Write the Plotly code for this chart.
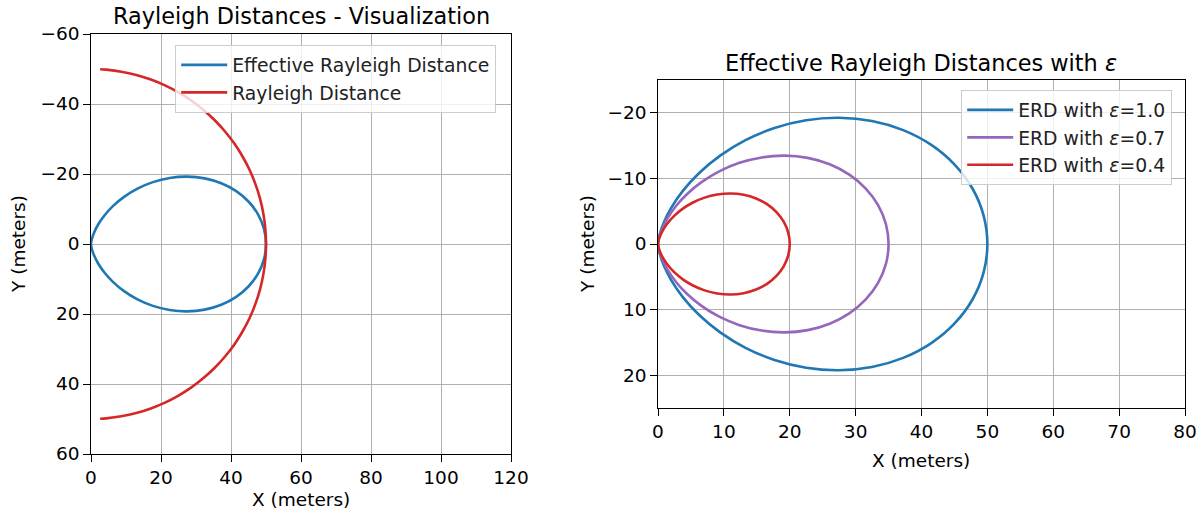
import plotly.graph_objects as go

# ---------------- data ----------------
# Left panel: Effective Rayleigh Distance (closed loop, meters)
erd_x = [0, 0.03, 0.26, 0.87, 2.00, 3.77, 6.25, 9.44, 13.28, 17.68, 22.48, 27.48, 32.48, 37.22, 41.49, 45.06, 47.76, 49.43, 50,
         49.43, 47.76, 45.06, 41.49, 37.22, 32.48, 27.48, 22.48, 17.68, 13.28, 9.44, 6.25, 3.77, 2.00, 0.87, 0.26, 0.03, 0]
erd_y = [0, -0.38, -1.49, -3.24, -5.50, -8.09, -10.83, -13.47, -15.83, -17.68, -18.86, -19.24, -18.75, -17.36, -15.10, -12.07, -8.42, -4.33, 0,
         4.33, 8.42, 12.07, 15.10, 17.36, 18.75, 19.24, 18.86, 17.68, 15.83, 13.47, 10.83, 8.09, 5.50, 3.24, 1.49, 0.38, 0]

# Left panel: Rayleigh Distance (arc, meters)
rd_x = [2.62, 4.36, 8.68, 12.94, 17.10, 21.13, 25.00, 28.68, 32.14, 35.36, 38.30, 40.96, 43.30, 45.32, 46.98, 48.30, 49.24, 49.81, 50,
        49.81, 49.24, 48.30, 46.98, 45.32, 43.30, 40.96, 38.30, 35.36, 32.14, 28.68, 25.00, 21.13, 17.10, 12.94, 8.68, 4.36, 2.62]
rd_y = [-49.93, -49.81, -49.24, -48.30, -46.98, -45.32, -43.30, -40.96, -38.30, -35.36, -32.14, -28.68, -25.00, -21.13, -17.10, -12.94, -8.68, -4.36, 0,
        4.36, 8.68, 12.94, 17.10, 21.13, 25.00, 28.68, 32.14, 35.36, 38.30, 40.96, 43.30, 45.32, 46.98, 48.30, 49.24, 49.81, 49.93]

# Right panel: ERD for several epsilon values
erd10_x = erd_x
erd10_y = erd_y
erd07_x = [0, 0.02, 0.18, 0.61, 1.40, 2.64, 4.38, 6.60, 9.30, 12.37, 15.74, 19.24, 22.73, 26.06, 29.04, 31.54, 33.43, 34.60, 35,
           34.60, 33.43, 31.54, 29.04, 26.06, 22.73, 19.24, 15.74, 12.37, 9.30, 6.60, 4.38, 2.64, 1.40, 0.61, 0.18, 0.02, 0]
erd07_y = [0, -0.26, -1.04, -2.26, -3.85, -5.67, -7.58, -9.43, -11.08, -12.37, -13.20, -13.47, -13.13, -12.15, -10.57, -8.45, -5.89, -3.03, 0,
           3.03, 5.89, 8.45, 10.57, 12.15, 13.13, 13.47, 13.20, 12.37, 11.08, 9.43, 7.58, 5.67, 3.85, 2.26, 1.04, 0.26, 0]
erd04_x = [0, 0.01, 0.10, 0.35, 0.80, 1.51, 2.50, 3.77, 5.31, 7.07, 8.99, 10.99, 12.99, 14.89, 16.60, 18.02, 19.10, 19.77, 20,
           19.77, 19.10, 18.02, 16.60, 14.89, 12.99, 10.99, 8.99, 7.07, 5.31, 3.77, 2.50, 1.51, 0.80, 0.35, 0.10, 0.01, 0]
erd04_y = [0, -0.15, -0.59, -1.29, -2.20, -3.24, -4.33, -5.39, -6.33, -7.07, -7.54, -7.70, -7.50, -6.94, -6.04, -4.83, -3.37, -1.73, 0,
           1.73, 3.37, 4.83, 6.04, 6.94, 7.50, 7.70, 7.54, 7.07, 6.33, 5.39, 4.33, 3.24, 2.20, 1.29, 0.59, 0.15, 0]

left_xticks = [0, 20, 40, 60, 80, 100, 120]
left_yticks = [-60, -40, -20, 0, 20, 40, 60]
right_xticks = [0, 10, 20, 30, 40, 50, 60, 70, 80]
right_yticks = [-20, -10, 0, 10, 20]

BLUE = "#1f77b4"
RED = "#d62728"
PURPLE = "#9467bd"
FONT = "DejaVu Sans"
W, H = 1202, 516

fig = go.Figure()
lw = 2.6
def ln(color):
    return dict(color=color, width=lw, shape="spline", smoothing=1.0)

fig.add_trace(go.Scatter(x=erd_x, y=erd_y, mode="lines", name="Effective Rayleigh Distance",
                         line=ln(BLUE), xaxis="x", yaxis="y", legend="legend"))
fig.add_trace(go.Scatter(x=rd_x, y=rd_y, mode="lines", name="Rayleigh Distance",
                         line=ln(RED), xaxis="x", yaxis="y", legend="legend"))
fig.add_trace(go.Scatter(x=erd10_x, y=erd10_y, mode="lines", name="ERD with <i>ε</i>=1.0",
                         line=ln(BLUE), xaxis="x2", yaxis="y2", legend="legend2"))
fig.add_trace(go.Scatter(x=erd07_x, y=erd07_y, mode="lines", name="ERD with <i>ε</i>=0.7",
                         line=ln(PURPLE), xaxis="x2", yaxis="y2", legend="legend2"))
fig.add_trace(go.Scatter(x=erd04_x, y=erd04_y, mode="lines", name="ERD with <i>ε</i>=0.4",
                         line=ln(RED), xaxis="x2", yaxis="y2", legend="legend2"))

tickfont = dict(family=FONT, size=18.5, color="black")
axcommon = dict(showline=True, linecolor="black", linewidth=1.4, mirror=True,
                ticks="outside", ticklen=6.5, tickwidth=1.4, tickcolor="black",
                showgrid=True, gridcolor="#b0b0b0", gridwidth=1.4, zeroline=False,
                tickfont=tickfont, fixedrange=True, automargin=False)

def px_x(p):
    return p / W

def px_y(p):
    return 1 - p / H

legfont = dict(family=FONT, size=18.8, color="#222222")
fig.update_layout(
    width=W, height=H, autosize=False,
    margin=dict(l=0, r=0, t=0, b=0),
    paper_bgcolor="white", plot_bgcolor="white",
    font=dict(family=FONT, size=18.5, color="black"),
    xaxis=dict(domain=[px_x(91), px_x(511)], range=[0, 120], tickvals=left_xticks, anchor="y", **axcommon),
    yaxis=dict(domain=[px_y(454), px_y(34)], range=[60, -60], tickvals=left_yticks, anchor="x", **axcommon),
    xaxis2=dict(domain=[px_x(658), px_x(1185)], range=[0, 80], tickvals=right_xticks, anchor="y2", **axcommon),
    yaxis2=dict(domain=[px_y(408), px_y(80)], range=[25, -25], tickvals=right_yticks, anchor="x2", **axcommon),
    legend=dict(x=px_x(175), y=px_y(45), xanchor="left", yanchor="top",
                bgcolor="rgba(255,255,255,0.8)", bordercolor="#cccccc", borderwidth=1.2,
                font=legfont, itemwidth=46),
    legend2=dict(x=px_x(961), y=px_y(90), xanchor="left", yanchor="top",
                 bgcolor="rgba(255,255,255,0.8)", bordercolor="#cccccc", borderwidth=1.2,
                 font=legfont, itemwidth=46),
    showlegend=True,
)

annos = [
    dict(text="Rayleigh Distances - Visualization", x=px_x(301), y=px_y(16), size=22.4, angle=0),
    dict(text="Effective Rayleigh Distances with <i>ε</i>", x=px_x(921), y=px_y(63), size=22.4, angle=0),
    dict(text="X (meters)", x=px_x(301), y=px_y(499), size=18.5, angle=0),
    dict(text="X (meters)", x=px_x(921), y=px_y(460), size=18.5, angle=0),
    dict(text="Y (meters)", x=px_x(19), y=px_y(244), size=18.5, angle=-90),
    dict(text="Y (meters)", x=px_x(588), y=px_y(244), size=18.5, angle=-90),
]
for a in annos:
    fig.add_annotation(text=a["text"], x=a["x"], y=a["y"], xref="paper", yref="paper",
                       xanchor="center", yanchor="middle", showarrow=False, textangle=a["angle"],
                       font=dict(family=FONT, size=a["size"], color="black"))

fig.write_html("out.html", config={"displayModeBar": False})
